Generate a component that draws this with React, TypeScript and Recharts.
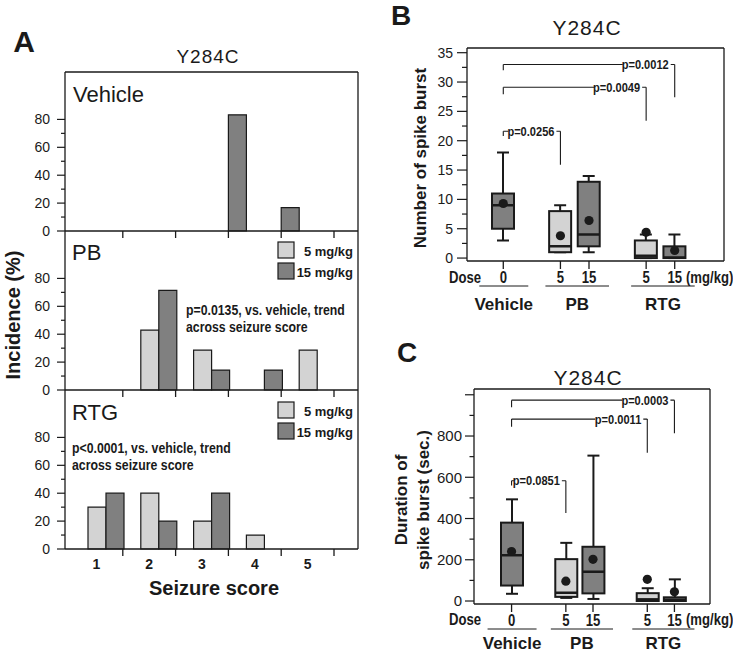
import React from "react";
import {
  BarChart,
  Bar,
  ComposedChart,
  Scatter,
  XAxis,
  YAxis,
  ReferenceLine,
} from "recharts";

const W = 733;
const H = 653;
const FONT = "'Liberation Sans', Arial, sans-serif";
const LIGHT = "#d3d3d3";
const DARK = "#808080";
const INK = "#1a1a1a";

// ---- panel A: incidence (%) per seizure score
const scores = ["1", "2", "3", "4", "5"];
const vehicleInc = [null, null, null, 83.3, 16.7];
const pb5Inc = [null, 42.9, 28.6, null, 28.6];
const pb15Inc = [null, 71.4, 14.3, 14.3, null];
const rtg5Inc = [30, 40, 20, 10, null];
const rtg15Inc = [40, 20, 40, null, null];
const incTicks = [0, 10, 20, 30, 40, 50, 60, 70, 80];

// ---- panels B / C: box plots
const boxGroups = ["Vehicle", "PB", "PB", "RTG", "RTG"];
const boxDoses = ["0", "5", "15", "5", "15"];

const countLo = [3, 1, 1, 0, 0];
const countQ1 = [5, 1, 2, 0, 0];
const countMed = [9, 2, 4, 0.4, 0.1];
const countQ3 = [11, 8, 13, 3, 2];
const countHi = [18, 9, 14, 4, 4];
const countMean = [9.3, 3.8, 6.4, 4.4, 1.3];
const countTicks = [0, 2.5, 5, 7.5, 10, 12.5, 15, 17.5, 20, 22.5, 25, 27.5, 30, 32.5, 35];

const durLo = [35, 15, 10, 0, 0];
const durQ1 = [75, 20, 37, 0, 0];
const durMed = [222, 40, 142, 8, 6];
const durQ3 = [380, 203, 263, 38, 18];
const durHi = [493, 282, 705, 62, 105];
const durMean = [240, 96, 202, 105, 45];
const durTicks = [0, 100, 200, 300, 400, 500, 600, 700, 800, 900, 1000];

// brackets: from / to are box indexes, values on the y scale
const countBrackets = [
  { label: "p=0.0012", from: 0, to: 4, y: 33, leftEnd: 32, rightEnd: 27.4 },
  { label: "p=0.0049", from: 0, to: 3, y: 29.1, leftEnd: 27.9, rightEnd: 23.4 },
  { label: "p=0.0256", from: 0, to: 1, y: 21.6, leftEnd: 20.8, rightEnd: 15.9 },
];
const durBrackets = [
  { label: "p=0.0003", from: 0, to: 4, y: 974, leftEnd: 939, rightEnd: 814 },
  { label: "p=0.0011", from: 0, to: 3, y: 882, leftEnd: 845, rightEnd: 719 },
  { label: "p=0.0851", from: 0, to: 1, y: 583, leftEnd: 560, rightEnd: 427 },
];

const boxKeys = boxDoses.map((d, i) => `${boxGroups[i]}-${d}`);

function incRows(veh: any[], d5: any[], d15: any[]) {
  return scores.map((s, i) => ({ score: s, veh: veh[i], d5: d5[i], d15: d15[i] }));
}

const none = [null, null, null, null, null];

function boxRows(lo: number[], q1: number[], med: number[], q3: number[], hi: number[], mean: number[]) {
  const rows: any[] = [];
  boxDoses.forEach((dose, i) => {
    if (i > 0 && boxGroups[i] !== boxGroups[i - 1]) rows.push({ key: `gap-${i}` });
    rows.push({
      key: boxKeys[i],
      group: boxGroups[i],
      dose,
      lo: lo[i],
      q1: q1[i],
      med: med[i],
      q3: q3[i],
      hi: hi[i],
      mean: mean[i],
    });
  });
  return rows;
}

// axes are 1px wide / high, so the plot box lands exactly on l, r, t, b
const marginOf = (p: any) => ({ left: p.l - 1, right: W - p.r - 1, top: p.t, bottom: H - p.b - 1 });

// condensed bold text (no narrow font installed, so squeeze Liberation Sans)
function Narrow({ x, y, size, anchor = "start", children }: any) {
  return (
    <text
      transform={`translate(${x},${y}) scale(0.82,1)`}
      textAnchor={anchor}
      fontSize={size}
      fontWeight="bold"
      fontFamily={FONT}
      fill={INK}
    >
      {children}
    </text>
  );
}

const valueTick =
  (isMajor: (v: number) => boolean, hasLabel: (v: number) => boolean, majorLen: number, gap: number, fs: number) =>
  (p: any) => {
    const v = Number(p.payload.value);
    const major = isMajor(v);
    return (
      <g>
        <line x1={p.x - (major ? majorLen : majorLen / 2)} x2={p.x} y1={p.y} y2={p.y} stroke={INK} strokeWidth={1.2} />
        {hasLabel(v) && (
          <text x={p.x - gap} y={p.y} dy="0.36em" textAnchor="end" fontSize={fs} fontFamily={FONT} fill={INK}>
            {v}
          </text>
        )}
      </g>
    );
  };

// ---------- panel A ----------
const A_PAD = { left: 5, right: 24 };
const A_BAND = (358 - 65 - A_PAD.left - A_PAD.right) / scores.length;

const scoreTick = (showLabels: boolean) => (p: any) => (
  <g>
    <line x1={p.x + A_BAND / 2} x2={p.x + A_BAND / 2} y1={p.y} y2={p.y + 7} stroke={INK} strokeWidth={1.3} />
    {showLabels && (
      <text x={p.x} y={p.y + 20} textAnchor="middle" fontSize={14} fontWeight="bold" fontFamily={FONT} fill={INK}>
        {p.payload.value}
      </text>
    )}
  </g>
);

function IncidencePanel({ rows, plot, showLabels, topBorder }: any) {
  const axisLine = { stroke: INK, strokeWidth: 1.3 };
  const barStyle = { stroke: INK, strokeWidth: 1.2, isAnimationActive: false };
  return (
    <div style={{ position: "absolute", left: 0, top: 0 }}>
      <BarChart width={W} height={H} data={rows} margin={marginOf(plot)} barGap={0} barCategoryGap={0}>
        <XAxis
          dataKey="score"
          height={1}
          padding={A_PAD}
          tickLine={false}
          tickSize={0}
          tickMargin={0}
          interval={0}
          axisLine={axisLine}
          tick={scoreTick(showLabels)}
        />
        <YAxis
          domain={[0, 114]}
          ticks={incTicks}
          width={1}
          interval={0}
          tickLine={false}
          tickSize={0}
          tickMargin={0}
          axisLine={axisLine}
          tick={valueTick((v) => v % 20 === 0, (v) => v % 20 === 0, 8, 15, 14)}
        />
        <YAxis yAxisId="r" orientation="right" width={1} tick={false} tickLine={false} axisLine={axisLine} />
        {topBorder && <ReferenceLine y={114} stroke={INK} strokeWidth={1.3} ifOverflow="visible" />}
        <Bar dataKey="veh" fill={DARK} {...barStyle} />
        <Bar dataKey="d5" fill={LIGHT} {...barStyle} />
        <Bar dataKey="d15" fill={DARK} {...barStyle} />
      </BarChart>
    </div>
  );
}

// ---------- panels B / C ----------
function BoxShape(props: any) {
  const { x, y, width, height, payload } = props;
  if (!payload || payload.q1 == null || !Number.isFinite(y)) return null;
  const top = Math.min(y, y + height);
  const h = Math.abs(height);
  const k = h / (payload.q3 - payload.q1);
  const py = (v: number) => top + (payload.q3 - v) * k;
  const cx = x + width / 2;
  const fill = payload.dose === "5" ? LIGHT : DARK;
  const cap = 6;
  return (
    <g>
      <line x1={cx} x2={cx} y1={py(payload.hi)} y2={py(payload.lo)} stroke={INK} strokeWidth={2} />
      <line x1={cx - cap} x2={cx + cap} y1={py(payload.hi)} y2={py(payload.hi)} stroke={INK} strokeWidth={2} />
      <line x1={cx - cap} x2={cx + cap} y1={py(payload.lo)} y2={py(payload.lo)} stroke={INK} strokeWidth={2} />
      <rect x={x} y={top} width={width} height={h} fill={fill} stroke={INK} strokeWidth={2} />
      <line x1={x} x2={x + width} y1={py(payload.med)} y2={py(payload.med)} stroke={INK} strokeWidth={2.5} />
    </g>
  );
}

const MeanDot = (p: any) =>
  p.payload?.mean == null || !Number.isFinite(p.cy) ? null : <circle cx={p.cx} cy={p.cy} r={4.6} fill={INK} />;

function BracketLabel(props: any) {
  const vb = props.viewBox || {};
  const end = vb.x + vb.width - 6;
  const yy = vb.y;
  return (
    <g>
      <rect x={end - 46} y={yy - 7} width={48} height={14} fill="#fff" />
      <Narrow x={end} y={yy + 4.5} size={13.5} anchor="end">
        {props.text}
      </Narrow>
    </g>
  );
}

const doseTick = (rows: any[], band: number, groupDy: number) => (p: any) => {
  const idx = rows.findIndex((r) => r.key === p.payload.value);
  const row = rows[idx];
  if (!row || !row.dose) return <g />;
  const x = p.x;
  const y = p.y;
  const next = rows[idx + 1];
  const isLast = !next || next.group !== row.group;
  let groupPart = null;
  if (isLast) {
    let first = idx;
    while (first > 0 && rows[first - 1].group === row.group) first--;
    const single = first === idx;
    const a = x - (idx - first) * band - (single ? 24 : 15);
    const b = x + (single ? 25 : 20);
    groupPart = (
      <g>
        <line x1={a} x2={b} y1={y + 25} y2={y + 25} stroke={INK} strokeWidth={1} />
        <text x={(a + b) / 2} y={y + groupDy} textAnchor="middle" fontSize={17} fontWeight="bold" fontFamily={FONT} fill={INK}>
          {row.group}
        </text>
      </g>
    );
  }
  return (
    <g>
      <line x1={x} x2={x} y1={y} y2={y + 8} stroke={INK} strokeWidth={1.3} />
      <Narrow x={x} y={y + 22} size={16} anchor="middle">
        {row.dose}
      </Narrow>
      {groupPart}
    </g>
  );
};

function BoxPanel({ rows, plot, pad, domain, ticks, yTick, brackets, groupDy }: any) {
  const axisLine = { stroke: INK, strokeWidth: 1.3 };
  const band = (plot.r - plot.l - pad.left - pad.right) / rows.length;
  const lineStyle = { stroke: INK, strokeWidth: 1.1, ifOverflow: "visible" as const };
  return (
    <div style={{ position: "absolute", left: 0, top: 0 }}>
      <ComposedChart width={W} height={H} data={rows} margin={marginOf(plot)}>
        <XAxis
          dataKey="key"
          height={1}
          padding={pad}
          tickLine={false}
          tickSize={0}
          tickMargin={0}
          interval={0}
          axisLine={axisLine}
          tick={doseTick(rows, band, groupDy)}
        />
        <YAxis
          domain={domain}
          ticks={ticks}
          width={1}
          interval={0}
          allowDataOverflow
          tickLine={false}
          tickSize={0}
          tickMargin={0}
          axisLine={axisLine}
          tick={yTick}
        />
        <YAxis yAxisId="r" orientation="right" width={1} tick={false} tickLine={false} axisLine={axisLine} />
        <ReferenceLine y={domain[1]} stroke={INK} strokeWidth={1.3} ifOverflow="visible" />
        {brackets.flatMap((b: any, i: number) => [
          <ReferenceLine
            key={`h${i}`}
            segment={[
              { x: boxKeys[b.from], y: b.y },
              { x: boxKeys[b.to], y: b.y },
            ]}
            {...lineStyle}
            label={<BracketLabel text={b.label} />}
          />,
          <ReferenceLine
            key={`l${i}`}
            segment={[
              { x: boxKeys[b.from], y: b.y },
              { x: boxKeys[b.from], y: b.leftEnd },
            ]}
            {...lineStyle}
          />,
          <ReferenceLine
            key={`r${i}`}
            segment={[
              { x: boxKeys[b.to], y: b.y },
              { x: boxKeys[b.to], y: b.rightEnd },
            ]}
            {...lineStyle}
          />,
        ])}
        <Bar dataKey={(d: any) => (d.q1 == null ? null : [d.q1, d.q3])} barSize={22} shape={BoxShape} isAnimationActive={false} />
        <Scatter dataKey="mean" shape={MeanDot} isAnimationActive={false} />
      </ComposedChart>
    </div>
  );
}

function Overlay() {
  const bold = { fontFamily: FONT, fontWeight: "bold" as const, fill: INK };
  const legend = (dy: number) => (
    <g>
      <rect x={278} y={242 + dy} width={16} height={16} fill={LIGHT} stroke={INK} strokeWidth={1.2} />
      <rect x={278} y={263 + dy} width={16} height={16} fill={DARK} stroke={INK} strokeWidth={1.2} />
      <text x={353} y={256 + dy} textAnchor="end" fontSize={13} {...bold}>5 mg/kg</text>
      <text x={353} y={277 + dy} textAnchor="end" fontSize={13} {...bold}>15 mg/kg</text>
    </g>
  );
  return (
    <svg width={W} height={H} style={{ position: "absolute", left: 0, top: 0, pointerEvents: "none" }}>
      <text x={24} y={52} textAnchor="middle" fontSize={30} {...bold}>A</text>
      <text x={401} y={25} textAnchor="middle" fontSize={28} {...bold}>B</text>
      <text x={407} y={362} textAnchor="middle" fontSize={28} {...bold}>C</text>

      <text x={208} y={63} textAnchor="middle" fontSize={19} letterSpacing={1} fontFamily={FONT} fill={INK}>Y284C</text>
      <text x={587} y={35} textAnchor="middle" fontSize={21} letterSpacing={1} fontFamily={FONT} fill={INK}>Y284C</text>
      <text x={588} y={385} textAnchor="middle" fontSize={21} letterSpacing={1} fontFamily={FONT} fill={INK}>Y284C</text>

      <text transform="translate(13,315) rotate(-90)" textAnchor="middle" dominantBaseline="central" fontSize={20} {...bold}>
        Incidence (%)
      </text>
      <text x={214} y={595} textAnchor="middle" fontSize={20} {...bold}>Seizure score</text>

      <text x={73} y={102} fontSize={22} fontFamily={FONT} fill={INK}>Vehicle</text>
      <text x={72} y={260} fontSize={22} fontFamily={FONT} fill={INK}>PB</text>
      <text x={72} y={420} fontSize={22} fontFamily={FONT} fill={INK}>RTG</text>
      {legend(0)}
      {legend(160)}
      <Narrow x={186} y={315} size={15}>p=0.0135, vs. vehicle, trend</Narrow>
      <Narrow x={186} y={332} size={15}>across seizure score</Narrow>
      <Narrow x={72} y={453} size={15}>p&lt;0.0001, vs. vehicle, trend</Narrow>
      <Narrow x={72} y={470} size={15}>across seizure score</Narrow>

      <text transform="translate(420,158) rotate(-90)" textAnchor="middle" dominantBaseline="central" fontSize={17} {...bold}>
        Number of spike burst
      </text>
      <text transform="translate(401,500) rotate(-90)" textAnchor="middle" dominantBaseline="central" fontSize={17} {...bold}>
        Duration of
      </text>
      <text transform="translate(423,500) rotate(-90)" textAnchor="middle" dominantBaseline="central" fontSize={17} {...bold}>
        spike burst (sec.)
      </text>

      <Narrow x={465} y={283} size={16} anchor="middle">Dose</Narrow>
      <Narrow x={686} y={283} size={16}>(mg/kg)</Narrow>
      <Narrow x={465} y={625} size={16} anchor="middle">Dose</Narrow>
      <Narrow x={686} y={625} size={16}>(mg/kg)</Narrow>
    </svg>
  );
}

export default function App() {
  const countRows = boxRows(countLo, countQ1, countMed, countQ3, countHi, countMean);
  const durRows = boxRows(durLo, durQ1, durMed, durQ3, durHi, durMean);
  return (
    <div style={{ position: "absolute", left: 0, top: 0, width: W, height: H, background: "#fff", overflow: "hidden" }}>
      <IncidencePanel rows={incRows(vehicleInc, none, none)} plot={{ l: 65, r: 358, t: 72, b: 231 }} showLabels={false} topBorder />
      <IncidencePanel rows={incRows(none, pb5Inc, pb15Inc)} plot={{ l: 65, r: 358, t: 231, b: 390 }} showLabels={false} />
      <IncidencePanel rows={incRows(none, rtg5Inc, rtg15Inc)} plot={{ l: 65, r: 358, t: 390, b: 549 }} showLabels />
      <BoxPanel
        rows={countRows}
        plot={{ l: 467, r: 724, t: 48, b: 261 }}
        pad={{ left: 22, right: 35 }}
        domain={[-0.5, 35.8]}
        ticks={countTicks}
        yTick={valueTick((v) => v % 5 === 0, (v) => v % 5 === 0, 10, 14, 14)}
        brackets={countBrackets}
        groupDy={49}
      />
      <BoxPanel
        rows={durRows}
        plot={{ l: 474, r: 710, t: 389, b: 604 }}
        pad={{ left: 24, right: 22 }}
        domain={[-14.5, 1028]}
        ticks={durTicks}
        yTick={valueTick((v) => v % 200 === 0 || v === 1000, (v) => v % 200 === 0 && v <= 800, 9, 12, 15)}
        brackets={durBrackets}
        groupDy={45}
      />
      <Overlay />
    </div>
  );
}
